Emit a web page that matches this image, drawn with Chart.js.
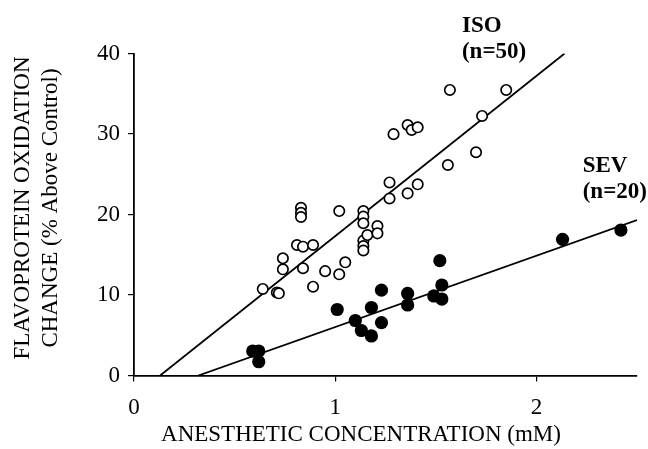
<!DOCTYPE html>
<html>
<head>
<title>Flavoprotein oxidation</title>
<style> body { margin:0; background:#fff; } #wrap { width:648px; height:449px; } </style>
<script src="https://cdn.jsdelivr.net/npm/chart.js@4.4.0/dist/chart.umd.min.js"></script>
</head>
<body>
<div id="wrap"><canvas id="chart"></canvas></div>
<script>
// ISO (open circles)
let isoX = [0.64,0.71,0.72,0.74,0.74,0.81,0.84,0.89,0.83,0.83,0.83,0.84,0.89,0.95,1.02,1.02,1.05,1.14,1.14,1.14,1.14,1.14,1.14,1.16,1.21,1.21,1.27,1.27,1.29,1.36,1.38,1.41,1.36,1.41,1.56,1.57,1.70,1.73,1.85];
let isoY = [10.75,10.31,10.21,14.56,13.19,16.21,16.0,16.21,20.84,20.22,19.69,13.32,11.03,12.96,12.57,20.43,14.06,20.43,19.73,18.91,16.75,16.09,15.53,17.45,18.57,17.66,23.98,21.99,29.98,31.12,30.5,30.83,22.63,23.75,26.15,35.47,27.73,32.24,35.47];
// SEV (filled circles)
let sevX = [0.59,0.62,0.62,1.01,1.10,1.13,1.18,1.18,1.23,1.23,1.36,1.36,1.49,1.53,1.53,1.52,2.13,2.42];
let sevY = [3.04,3.04,1.71,8.2,6.83,5.59,4.91,8.45,10.6,6.56,10.19,8.76,9.88,11.24,9.5,14.26,16.92,18.07];
// regression lines (end points)
let isoFitX = [0.13,2.14], isoFitY = [0,40];
let sevFitX = [0.32,2.5], sevFitY = [0,19.3];
let xTicks = [0,1,2];

function pts(xs,ys){ return xs.map(function(v,i){ return {x:v,y:ys[i]}; }); }

const serif = "'Liberation Serif', 'Times New Roman', serif";

// axis titles and group labels
const textPlugin = {
  id:'texts',
  afterDraw(chart){
    let c = chart.ctx, xs = chart.scales.x, ys = chart.scales.y;
    c.save();
    c.fillStyle = '#000';
    c.font = '23px ' + serif;
    c.textAlign = 'center';
    c.textBaseline = 'alphabetic';
    c.fillText('ANESTHETIC CONCENTRATION (mM)', 361, 441);
    c.translate(0, 208);
    c.rotate(-Math.PI/2);
    c.textBaseline = 'middle';
    c.fillText('FLAVOPROTEIN OXIDATION', 0, 23);
    c.fillText('CHANGE (% Above Control)', 0, 51);
    c.restore();

    c.save();
    c.fillStyle = '#000';
    c.font = 'bold 23px ' + serif;
    c.textAlign = 'left';
    c.textBaseline = 'alphabetic';
    c.fillText('ISO', xs.getPixelForValue(1.63), ys.getPixelForValue(42.7));
    c.fillText('(n=50)', xs.getPixelForValue(1.63), ys.getPixelForValue(39.4));
    c.fillText('SEV', xs.getPixelForValue(2.23), ys.getPixelForValue(25.3));
    c.fillText('(n=20)', xs.getPixelForValue(2.23), ys.getPixelForValue(22.05));
    c.restore();
  }
};

let chart = new Chart(document.getElementById('chart'), {
  type:'scatter',
  data:{
    datasets:[
      { label:'ISO', data:pts(isoX,isoY), order:1, pointRadius:5.2, pointHoverRadius:5.2,
        pointBackgroundColor:'#fff', pointBorderColor:'#000', pointBorderWidth:1.7 },
      { label:'SEV', data:pts(sevX,sevY), order:1, pointRadius:6.6, pointHoverRadius:6.6,
        pointBackgroundColor:'#000', pointBorderColor:'#000', pointBorderWidth:0 },
      { label:'ISO fit', data:pts(isoFitX,isoFitY), order:2, showLine:true, pointRadius:0,
        borderColor:'#000', borderWidth:1.8 },
      { label:'SEV fit', data:pts(sevFitX,sevFitY), order:2, showLine:true, pointRadius:0,
        borderColor:'#000', borderWidth:1.8 }
    ]
  },
  options:{
    responsive:true, maintainAspectRatio:false, animation:false,
    layout:{ padding:{ top:53.5, right:11, left:0, bottom:0 } },
    plugins:{ legend:{display:false}, tooltip:{enabled:false} },
    scales:{
      x:{
        type:'linear', min:0, max:2.5,
        afterBuildTicks: function(s){ s.ticks = xTicks.map(function(v){ return {value:v}; }); },
        afterFit: function(s){ s.height = 73.5; },
        border:{ display:true, color:'#000', width:1.8 },
        grid:{ drawOnChartArea:false, drawTicks:true, tickLength:6, color:'#000', lineWidth:1.2 },
        ticks:{ color:'#000', font:{ family:serif, size:23 }, padding:13, maxRotation:0 }
      },
      y:{
        type:'linear', min:0, max:40,
        ticks:{ stepSize:10, color:'#000', font:{ family:serif, size:23 }, padding:8 },
        afterFit: function(s){ s.width = 134; },
        border:{ display:true, color:'#000', width:1.8 },
        grid:{ drawOnChartArea:false, drawTicks:true, tickLength:6, color:'#000', lineWidth:1.2 }
      }
    }
  },
  plugins:[textPlugin]
});
</script>
</body>
</html>
